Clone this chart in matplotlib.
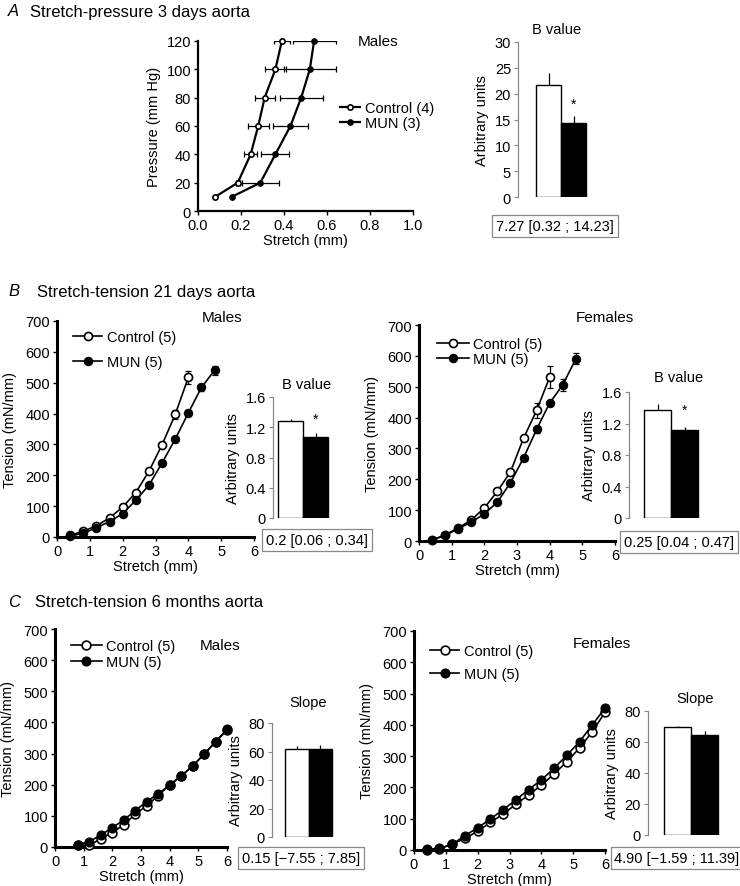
import matplotlib
matplotlib.use("Agg")
import matplotlib.pyplot as plt

plt.rcParams["font.family"] = ["Liberation Sans", "DejaVu Sans"]
plt.rcParams["font.size"] = 10
W, H = 740, 887

# ---------------- data ----------------
# A: stretch-pressure, 3 days (x = stretch, y = pressure)
A_pressure = [10, 20, 40, 60, 80, 100, 120]
A_ctrl = [0.08, 0.185, 0.245, 0.28, 0.31, 0.36, 0.39]
A_ctrl_err = [0.0, 0.01, 0.03, 0.048, 0.046, 0.05, 0.038]
A_mun = [0.157, 0.29, 0.36, 0.43, 0.48, 0.52, 0.54]
A_mun_err = [0.0, 0.085, 0.065, 0.08, 0.1, 0.12, 0.1]
A_bval = [21.7, 14.4]
A_bval_err = [2.3, 1.2]

# B: stretch-tension, 21 days
B_str_ctrl = [0.4, 0.8, 1.2, 1.6, 2.0, 2.4, 2.8, 3.2, 3.6, 4.0]
B_str_mun = [0.4, 0.8, 1.2, 1.6, 2.0, 2.4, 2.8, 3.2, 3.6, 4.0, 4.4, 4.8]
BM_ctrl = [5, 19, 36, 62, 97, 144, 213, 299, 397, 517]
BM_ctrl_err = [2, 3, 3, 4, 5, 5, 6, 8, 15, 20]
BM_mun = [3, 12, 30, 50, 76, 119, 168, 240, 317, 402, 485, 540]
BM_mun_err = [2, 3, 3, 4, 4, 5, 5, 6, 8, 8, 12, 15]
BM_bval = [1.28, 1.07]
BM_bval_err = [0.03, 0.06]
BF_ctrl = [3, 20, 42, 68, 107, 161, 224, 333, 423, 531]
BF_ctrl_err = [2, 3, 3, 4, 5, 5, 8, 10, 25, 35]
BF_mun = [3, 18, 40, 61, 88, 126, 189, 269, 362, 447, 506, 590]
BF_mun_err = [2, 3, 3, 4, 4, 5, 6, 8, 12, 10, 20, 18]
BF_bval = [1.37, 1.12]
BF_bval_err = [0.08, 0.03]

# C: stretch-tension, 6 months
CM_str = [0.8, 1.2, 1.6, 2.0, 2.4, 2.8, 3.2, 3.6, 4.0, 4.4, 4.8, 5.2, 5.6, 6.0]
CM_ctrl = [5, 5, 27, 46, 72, 105, 133, 165, 200, 228, 260, 298, 338, 375]
CM_mun = [8, 17, 39, 62, 87, 117, 146, 171, 198, 228, 260, 298, 338, 378]
CM_slope = [61.7, 61.8]
CM_slope_err = [2.5, 2.5]
CF_str = [0.4, 0.8, 1.2, 1.6, 2.0, 2.4, 2.8, 3.2, 3.6, 4.0, 4.4, 4.8, 5.2, 5.6, 6.0]
CF_ctrl = [0, 4, 19, 37, 60, 88, 115, 146, 176, 207, 243, 282, 326, 378, 440]
CF_mun = [2, 5, 18, 46, 71, 99, 129, 160, 193, 224, 261, 303, 346, 400, 453]
CF_slope = [69.5, 64.5]
CF_slope_err = [1.0, 2.5]

A_lab = ["Control (4)", "MUN (3)"]
N5_lab = ["Control (5)", "MUN (5)"]

fig = plt.figure(figsize=(W / 100, H / 100), dpi=100)


def px_axes(x0, x1, y0, y1):
    return fig.add_axes([x0 / W, 1 - y1 / H, (x1 - x0) / W, (y1 - y0) / H])


def ftext(x, y, s, **kw):
    fig.text(x / W, 1 - y / H, s, va="center", **kw)


def style_line_ax(ax, spine_lw):
    for s in ("top", "right"):
        ax.spines[s].set_visible(False)
    for s in ("left", "bottom"):
        ax.spines[s].set_linewidth(spine_lw)
    ax.tick_params(direction="out", length=3, width=1, labelsize=10.5, pad=2)


def add_legend(ax, x, y, spacing, hlen):
    ax.legend(loc="upper left", bbox_to_anchor=(x / W, 1 - y / H),
              bbox_transform=fig.transFigure, frameon=False, borderpad=0,
              borderaxespad=0, handlelength=hlen, handletextpad=0.3,
              labelspacing=spacing, fontsize=10.5)


def curves(ax, x1, y1, x2, y2, ms, lw, e1=None, e2=None, horiz=False):
    for xs, ys, e in ((x1, y1, e1), (x2, y2, e2)):
        if e is not None:
            if horiz:
                ax.errorbar(xs, ys, xerr=e, fmt="none", ecolor="black",
                            elinewidth=0.9, capsize=2.5, capthick=0.9, zorder=2)
            else:
                ax.errorbar(xs, ys, yerr=e, fmt="none", ecolor="black",
                            elinewidth=0.9, capsize=2.5, capthick=0.9, zorder=2)
    ax.plot(x1, y1, "-o", color="black", mfc="white", mec="black", ms=ms,
            mew=1.2, lw=lw, zorder=3, label=labels[0], clip_on=False)
    ax.plot(x2, y2, "-o", color="black", mfc="black", mec="black", ms=ms,
            lw=lw, zorder=4, label=labels[1], clip_on=False)


def bar_panel(axis_x, white_left, bar_w, y0, y1, vals, errs, ymax, ticks,
              ticklabels, star=None):
    x1 = white_left + 2 * bar_w + 6
    ax = px_axes(axis_x, x1, y0, y1)
    ax.bar([0, 1], vals, width=1.0, color=["white", "black"],
           edgecolor="black", linewidth=1.0, zorder=2)
    ax.errorbar([0, 1], vals, yerr=[[0, 0], errs], fmt="none",
                ecolor="black", elinewidth=0.9, capsize=0, zorder=1)
    left = -0.5 - (white_left - axis_x) / bar_w
    ax.set_xlim(left, left + (x1 - axis_x) / bar_w)
    ax.set_ylim(0, ymax)
    ax.set_yticks(ticks)
    ax.set_yticklabels(ticklabels)
    for s in ("top", "right", "bottom"):
        ax.spines[s].set_visible(False)
    ax.spines["left"].set_color("#888888")
    ax.spines["left"].set_linewidth(0.9)
    ax.set_xticks([])
    ax.tick_params(axis="y", direction="out", length=3, width=0.8,
                   color="#888888", labelsize=10.5, pad=2)
    ax.set_ylabel("Arbitrary units", fontsize=10.5, labelpad=4)
    if star is not None:
        ax.text(1, star, "*", ha="center", va="center", fontsize=10)
    return ax


def box_text(x, y, s):
    ftext(x, y, s, ha="center", fontsize=10.5,
          bbox=dict(boxstyle="square,pad=0.25", fc="white", ec="#888888", lw=0.9))


# ---------------- headings ----------------
ftext(8, 12, "A", fontsize=12, style="italic")
ftext(30, 12, "Stretch-pressure 3 days aorta", fontsize=12)
ftext(8, 292, "B", fontsize=12, style="italic")
ftext(37, 292, "Stretch-tension 21 days aorta", fontsize=12)
ftext(8, 603, "C", fontsize=12, style="italic")
ftext(35, 603, "Stretch-tension 6 months aorta", fontsize=12)

# ---------------- A ----------------
labels = A_lab
ax = px_axes(198, 413, 42, 212)
curves(ax, A_ctrl, A_pressure, A_mun, A_pressure, 3.8, 1.6,
       A_ctrl_err, A_mun_err, horiz=True)
ax.set_xlim(0, 1.0)
ax.set_ylim(0, 120)
ax.set_xticks([0, 0.2, 0.4, 0.6, 0.8, 1.0])
ax.set_xticklabels(["0.0", "0.2", "0.4", "0.6", "0.8", "1.0"])
ax.set_yticks(range(0, 121, 20))
style_line_ax(ax, 1.6)
ax.set_ylabel("Pressure (mm Hg)", fontsize=10.5, labelpad=4)
ax.set_xlabel("Stretch (mm)", fontsize=10.5, labelpad=1)
add_legend(ax, 340, 102, 0.1, 1.4)
ftext(378, 42, "Males", ha="center", fontsize=11)

bar_panel(518, 536, 25, 43, 198, A_bval, A_bval_err, 30,
          range(0, 31, 5), [str(v) for v in range(0, 31, 5)], star=18.1)
ftext(557, 30, "B value", ha="center", fontsize=10.5)
box_text(555, 227, "7.27 [0.32 ; 14.23]")

# ---------------- B males ----------------
labels = N5_lab
ax = px_axes(57, 254, 322, 538)
curves(ax, B_str_ctrl, BM_ctrl, B_str_mun, BM_mun, 5.8, 1.2, BM_ctrl_err, BM_mun_err)
ax.set_xlim(0, 6)
ax.set_ylim(0, 700)
ax.set_xticks(range(7))
ax.set_yticks(range(0, 701, 100))
style_line_ax(ax, 2.2)
ax.set_ylabel("Tension (mN/mm)", fontsize=10.5, labelpad=6)
ax.set_xlabel("Stretch (mm)", fontsize=10.5, labelpad=1)
add_legend(ax, 73, 331, 0.75, 2.0)
ftext(222, 318, "Males", ha="center", fontsize=11)

bar_panel(273, 278, 25, 398, 519, BM_bval, BM_bval_err, 1.6,
          [0, 0.4, 0.8, 1.2, 1.6], ["0", "0.4", "0.8", "1.2", "1.6"], star=1.31)
ftext(307, 385, "B value", ha="center", fontsize=10.5)
box_text(317, 541, "0.2 [0.06 ; 0.34]")

# ---------------- B females ----------------
ax = px_axes(419, 615, 326, 542)
curves(ax, B_str_ctrl, BF_ctrl, B_str_mun, BF_mun, 5.8, 1.2, BF_ctrl_err, BF_mun_err)
ax.set_xlim(0, 6)
ax.set_ylim(0, 700)
ax.set_xticks(range(7))
ax.set_yticks(range(0, 701, 100))
style_line_ax(ax, 2.2)
ax.set_ylabel("Tension (mN/mm)", fontsize=10.5, labelpad=6)
ax.set_xlabel("Stretch (mm)", fontsize=10.5, labelpad=1)
add_legend(ax, 437, 338, 0.1, 2.2)
ftext(605, 318, "Females", ha="center", fontsize=11)

bar_panel(629, 644, 27, 393, 519, BF_bval, BF_bval_err, 1.6,
          [0, 0.4, 0.8, 1.2, 1.6], ["0", "0.4", "0.8", "1.2", "1.6"], star=1.38)
ftext(679, 378, "B value", ha="center", fontsize=10.5)
box_text(679, 543, "0.25 [0.04 ; 0.47]")

# ---------------- C males ----------------
ax = px_axes(55, 227, 630, 848)
curves(ax, CM_str, CM_ctrl, CM_str, CM_mun, 6.3, 1.2)
ax.set_xlim(0, 6)
ax.set_ylim(0, 700)
ax.set_xticks(range(7))
ax.set_yticks(range(0, 701, 100))
style_line_ax(ax, 2.2)
ax.set_ylabel("Tension (mN/mm)", fontsize=10.5, labelpad=6)
ax.set_xlabel("Stretch (mm)", fontsize=10.5, labelpad=1)
add_legend(ax, 71, 640, 0.15, 2.1)
ftext(220, 646, "Males", ha="center", fontsize=11)

bar_panel(272, 285, 23.5, 724, 838, CM_slope, CM_slope_err, 80,
          [0, 20, 40, 60, 80], ["0", "20", "40", "60", "80"])
ftext(308, 703, "Slope", ha="center", fontsize=10.5)
box_text(301, 859, "0.15 [\u22127.55 ; 7.85]")

# ---------------- C females ----------------
ax = px_axes(414, 605, 632, 851)
curves(ax, CF_str, CF_ctrl, CF_str, CF_mun, 6.3, 1.2)
ax.set_xlim(0, 6)
ax.set_ylim(0, 700)
ax.set_xticks(range(7))
ax.set_yticks(range(0, 701, 100))
style_line_ax(ax, 2.2)
ax.set_ylabel("Tension (mN/mm)", fontsize=10.5, labelpad=6)
ax.set_xlabel("Stretch (mm)", fontsize=10.5, labelpad=1)
add_legend(ax, 430, 645, 0.6, 2.0)
ftext(602, 644, "Females", ha="center", fontsize=11)

bar_panel(648, 664, 27, 712, 836, CF_slope, CF_slope_err, 80,
          [0, 20, 40, 60, 80], ["0", "20", "40", "60", "80"])
ftext(695, 699, "Slope", ha="center", fontsize=10.5)
box_text(677, 859, "4.90 [\u22121.59 ; 11.39]")

fig.savefig("out.png", dpi=100)
